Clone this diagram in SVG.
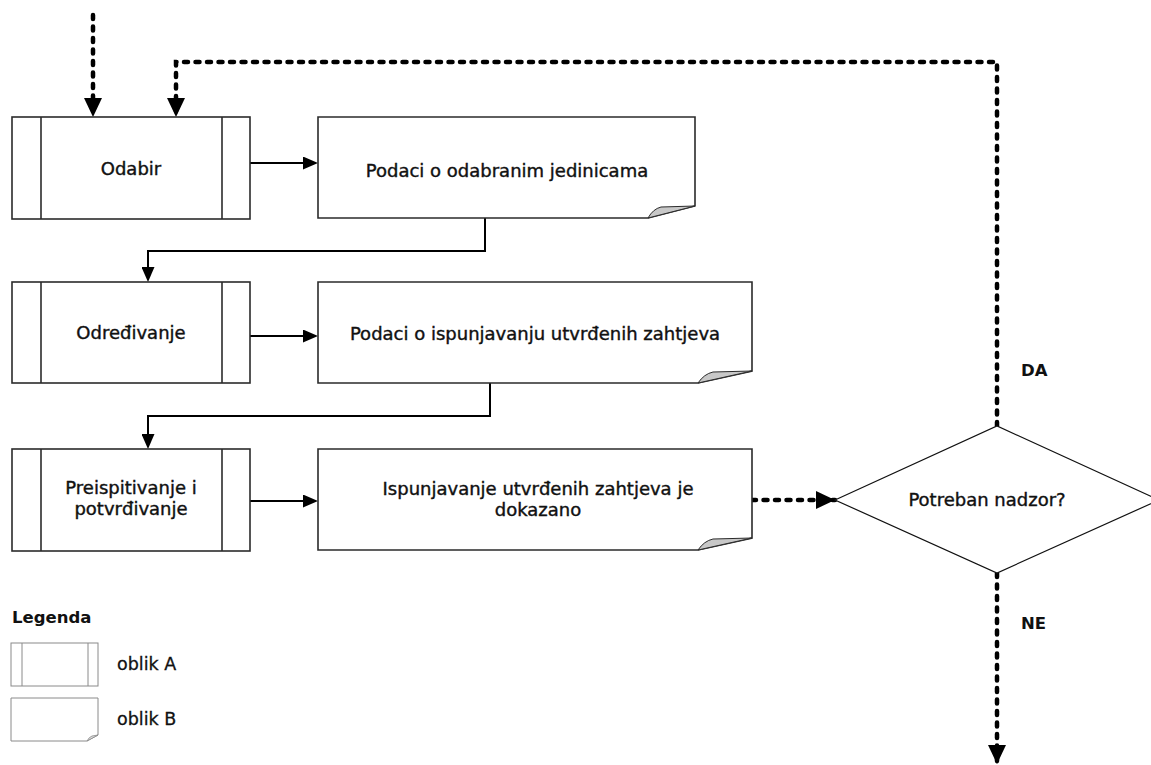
<svg xmlns="http://www.w3.org/2000/svg" width="1151" height="765" viewBox="0 0 1151 765">
<style>
.box{fill:#fff;stroke:#2b2b2b;stroke-width:1.6}
.bar{stroke:#2b2b2b;stroke-width:1.6}
.curl{fill:#c8c8c8;stroke:#2b2b2b;stroke-width:1}
.lbox{fill:#fff;stroke:#8a8a8a;stroke-width:1}
.lbar{stroke:#8a8a8a;stroke-width:1}
.lcurl{fill:#ddd;stroke:#8a8a8a;stroke-width:0.8}
.dia{fill:#fff;stroke:#111;stroke-width:1.2}
.t{font-family:"DejaVu Sans",Verdana,sans-serif;font-size:18px;fill:#111;stroke:#111;stroke-width:0.4;text-anchor:middle}
.lt{font-family:"DejaVu Sans",Verdana,sans-serif;font-size:17.5px;fill:#111;stroke:#111;stroke-width:0.3}
.b{font-family:"DejaVu Sans",Verdana,sans-serif;font-size:16.5px;font-weight:bold;fill:#111}
.solid{fill:none;stroke:#000;stroke-width:2}
.dash{fill:none;stroke:#000;stroke-width:4.5;stroke-linecap:round;stroke-dasharray:4 7.5}
</style>
<defs>
<marker id="ah" markerUnits="userSpaceOnUse" markerWidth="15" markerHeight="13" refX="12" refY="6.5" orient="auto">
<path d="M0,0 L15,6.5 L0,13 Z" fill="#000"/>
</marker>
<marker id="ahd" markerUnits="userSpaceOnUse" markerWidth="19" markerHeight="18" refX="19" refY="9" orient="auto">
<path d="M0,0 L19,9 L0,18 Z" fill="#000"/>
</marker>
</defs>
<rect width="1151" height="765" fill="#fff"/>

<g id="connectors">
<path class="solid" d="M250,163 H315" marker-end="url(#ah)"/>
<path class="solid" d="M250,336 H315" marker-end="url(#ah)"/>
<path class="solid" d="M250,501 H315" marker-end="url(#ah)"/>
<path class="solid" d="M485,218 V251 H148 V279" marker-end="url(#ah)"/>
<path class="solid" d="M490,383 V416 H148 V446" marker-end="url(#ah)"/>
<path class="dash" d="M93,15 V117" marker-end="url(#ahd)"/>
<path class="dash" d="M997,426 V62 H176 V117" marker-end="url(#ahd)"/>
<path class="dash" d="M752,500 H835" marker-end="url(#ahd)"/>
<path class="dash" d="M997,573 V764" marker-end="url(#ahd)"/>
<text class="b" x="1021" y="376">DA</text>
<text class="b" x="1021" y="629">NE</text>
</g>

<g id="odabir">
<rect class="box" x="12" y="117" width="238" height="102"/>
<line class="bar" x1="41" y1="117" x2="41" y2="219"/>
<line class="bar" x1="222" y1="117" x2="222" y2="219"/>
<text class="t" x="131" y="175">Odabir</text>
</g>

<g id="podaci-odabrane">
<path class="box" d="M318,117 H695 V206 L648,218 H318 Z"/>
<path class="curl" d="M648,218 Q653,209 661,207 L695,206 Z"/>
<text class="t" x="507" y="177">Podaci o odabranim jedinicama</text>
</g>

<g id="odredivanje">
<rect class="box" x="12" y="282" width="238" height="101"/>
<line class="bar" x1="41" y1="282" x2="41" y2="383"/>
<line class="bar" x1="222" y1="282" x2="222" y2="383"/>
<text class="t" x="131" y="339">Određivanje</text>
</g>

<g id="podaci-ispunjavanje">
<path class="box" d="M318,282 H752 V371 L698,383 H318 Z"/>
<path class="curl" d="M698,383 Q704,374 713,372 L752,371 Z"/>
<text class="t" x="535" y="340">Podaci o ispunjavanju utvrđenih zahtjeva</text>
</g>

<g id="preispitivanje">
<rect class="box" x="12" y="449" width="238" height="102"/>
<line class="bar" x1="41" y1="449" x2="41" y2="551"/>
<line class="bar" x1="222" y1="449" x2="222" y2="551"/>
<text class="t" x="131" y="494">Preispitivanje i</text>
<text class="t" x="131" y="515">potvrđivanje</text>
</g>

<g id="dokazano">
<path class="box" d="M318,449 H752 V538 L698,550 H318 Z"/>
<path class="curl" d="M698,550 Q704,541 713,539 L752,538 Z"/>
<text class="t" x="538" y="495">Ispunjavanje utvrđenih zahtjeva je</text>
<text class="t" x="538" y="516">dokazano</text>
</g>

<g id="nadzor">
<polygon class="dia" points="835,500 997,426 1159,500 997,573"/>
<text class="t" x="987" y="506">Potreban nadzor?</text>
</g>

<g id="legenda">
<text class="b" x="12" y="623">Legenda</text>
<rect class="lbox" x="11" y="643" width="87" height="43"/>
<line class="lbar" x1="22" y1="643" x2="22" y2="686"/>
<line class="lbar" x1="88" y1="643" x2="88" y2="686"/>
<text class="lt" x="117" y="670">oblik A</text>
<path class="lbox" d="M11,698 H98 V735 L87,741 H11 Z"/>
<path class="lcurl" d="M87,741 Q89,737 92,736 L98,735 Z"/>
<text class="lt" x="117" y="725">oblik B</text>
</g>
</svg>
